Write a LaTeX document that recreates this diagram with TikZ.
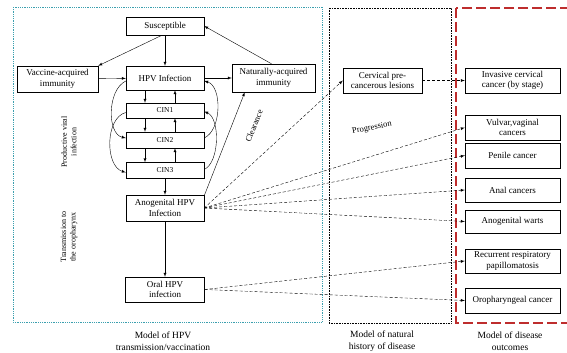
\documentclass[tikz,border=0pt]{standalone}
\usepackage{fontspec}
\setmainfont{Liberation Serif}
\usetikzlibrary{arrows,positioning}
\definecolor{framecyan}{RGB}{60,160,175}
\definecolor{framered}{RGB}{190,45,45}
\tikzset{box/.style={draw, align=center, inner sep=1pt, font=\fontsize{9}{10.5}\selectfont},
  arr/.style={-latex},
  darr/.style={-latex, densely dashed},
  lbl/.style={align=center, font=\fontsize{8}{9.5}\selectfont},
  modelcap/.style={align=center, font=\fontsize{9.5}{12}\selectfont}}

\begin{document}
\begin{tikzpicture}[x=1pt, y=-1pt]
\useasboundingbox (0,0) rectangle (567,353);
\draw[framecyan, densely dotted, line width=0.8pt] (13,7) rectangle (322,322);
\draw[densely dotted, line width=0.6pt] (329,8) rectangle (451,323);
\draw[framered, line width=1.1pt, dash pattern=on 10pt off 4pt] (456,8) rectangle (569,323);

\node[box, minimum width=78pt, minimum height=18pt] (sus) at (165,26) {Susceptible};
\node[box, minimum width=81pt, minimum height=26pt] (vac) at (57.5,79) {Vaccine-acquired\\immunity};
\node[box, minimum width=78pt, minimum height=24pt] (hpv) at (165,78) {HPV Infection};
\node[box, minimum width=83pt, minimum height=28pt] (nat) at (273.5,78) {Naturally-acquired\\immunity};
\node[box, minimum width=78pt, minimum height=15pt, font=\fontsize{7.5}{9}\selectfont] (cin1) at (165,110.5) {CIN1};
\node[box, minimum width=78pt, minimum height=16pt, font=\fontsize{7.5}{9}\selectfont] (cin2) at (165,140) {CIN2};
\node[box, minimum width=78pt, minimum height=16pt, font=\fontsize{7.5}{9}\selectfont] (cin3) at (165,170.5) {CIN3};
\node[box, minimum width=78pt, minimum height=26pt] (ano) at (165,208) {Anogenital HPV\\Infection};
\node[box, minimum width=79pt, minimum height=25pt] (oral) at (165,289.5) {Oral HPV\\infection};

\node[box, minimum width=79pt, minimum height=25pt] (cerv) at (382.5,80.5) {Cervical pre-\\cancerous lesions};
\node[box, minimum width=95pt, minimum height=25pt] (inv) at (512.5,80.5) {Invasive cervical\\cancer (by stage)};
\node[box, minimum width=95pt, minimum height=25pt] (vul) at (512.5,127.5) {Vulvar,vaginal\\cancers};
\node[box, minimum width=95pt, minimum height=25pt] (pen) at (512.5,155.5) {Penile cancer};
\node[box, minimum width=95pt, minimum height=24pt] (anal) at (512.5,190) {Anal cancers};
\node[box, minimum width=95pt, minimum height=23pt] (wart) at (512.5,221.5) {Anogenital warts};
\node[box, minimum width=95pt, minimum height=24pt] (rrp) at (512.5,261) {Recurrent respiratory\\papillomatosis};
\node[box, minimum width=95pt, minimum height=25pt] (oro) at (512.5,300.5) {Oropharyngeal cancer};

\draw[arr] (sus) -- (hpv);
\draw[arr] ([xshift=-3pt]sus.south) -- (vac.north east);
\draw[arr] ([xshift=-2pt]nat.north) -- (sus.east);
\draw[arr] (vac) -- (hpv);
\draw[arr] (hpv) -- (nat);

\draw[arr] ([xshift=-20pt]hpv.south) -- ([xshift=-20pt]cin1.north);
\draw[arr] ([xshift=10pt]cin1.north) -- ([xshift=10pt]hpv.south);
\draw[arr] ([xshift=-20pt]cin1.south) -- ([xshift=-20pt]cin2.north);
\draw[arr] ([xshift=10pt]cin2.north) -- ([xshift=10pt]cin1.south);
\draw[arr] ([xshift=-20pt]cin2.south) -- ([xshift=-20pt]cin3.north);
\draw[arr] ([xshift=10pt]cin3.north) -- ([xshift=10pt]cin2.south);
\draw[arr] (cin3) -- (ano);
\draw[arr] (ano) -- (oral);

\draw[arr] ([yshift=-3pt]hpv.west) .. controls (107,90) and (107,134) .. ([yshift=2pt]cin2.west);
\draw[arr] ([yshift=-2pt]cin1.west) .. controls (105,118) and (105,166) .. ([yshift=-2pt]cin3.west);
\draw[arr] ([yshift=2pt]cin2.east) .. controls (222,130) and (222,86) .. ([yshift=-3pt]hpv.east);
\draw[arr] ([yshift=1pt]cin3.east) .. controls (220,162) and (220,118) .. ([yshift=-1pt]cin1.east);

\draw[arr] ([yshift=-1pt]ano.north east) -- ([xshift=13pt]nat.south west);

\draw[darr] (ano.east) -- (cerv.west);
\draw[darr] (cerv) -- (inv);
\draw[darr] (ano.east) -- (vul.west);
\draw[darr] (ano.east) -- (pen.west);
\draw[darr] (ano.east) -- (anal.west);
\draw[darr] (ano.east) -- (wart.west);
\draw[darr] (oral.east) -- (rrp.west);
\draw[darr] (oral.east) -- (oro.west);

\node[lbl, rotate=90] (prod) at (69,142) {Productive viral\\infection};
\node[lbl, rotate=90] (trans) at (69,237) {Transmission to\\the oropharynx};
\node[lbl, rotate=68, font=\fontsize{8.5}{10}\selectfont] (clear) at (254,126) {Clearance};
\node[lbl, rotate=11, font=\fontsize{8.5}{10}\selectfont] (prog) at (372,128) {Progression};

\node[modelcap] (cap1) at (163,341) {Model of HPV\\transmission/vaccination};
\node[modelcap] (cap2) at (382,341) {Model of natural\\history of disease};
\node[modelcap] (cap3) at (510,341) {Model of disease\\outcomes};
\end{tikzpicture}
\end{document}
